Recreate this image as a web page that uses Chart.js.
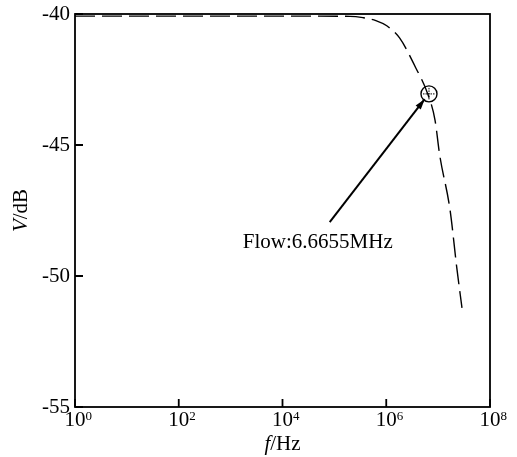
<!DOCTYPE html>
<html>
<head>
<meta charset="utf-8">
<script src="https://cdn.jsdelivr.net/npm/chart.js@4.4.0/dist/chart.umd.min.js"></script>
<style>
  html, body { margin: 0; padding: 0; background: #fff; }
  #wrap { width: 517px; height: 457px; position: relative; }
</style>
</head>
<body>
<div id="wrap"><canvas id="bodeChart"></canvas></div>
<script>
// frequency in Hz (read as log10 off the picture) and gain in dB
const freqExp = [0, 2, 4, 5.3, 5.55, 5.8, 6.01, 6.26, 6.57, 6.80, 6.94, 7.03, 7.23, 7.36, 7.46];
const gainDb = [-40.08, -40.08, -40.08, -40.09, -40.14, -40.25, -40.45, -40.92, -42.06, -43.05, -44.05, -45.38, -47.48, -49.69, -51.22];
const xTicks = [1, 1e2, 1e4, 1e6, 1e8];
const xTickExp = ["0", "2", "4", "6", "8"];
const yTicks = [-55, -50, -45, -40];
const flowFreq = 6.6655e6;
const flowGain = -43.05;
const noteText = "Flow:6.6655MHz";
const arrowFrom = [Math.pow(10, 4.91), -47.94];
const arrowTo = [Math.pow(10, 6.74), -43.25];
const notePos = [Math.pow(10, 4.68), -48.72];

const serif = "'Liberation Serif', 'Times New Roman', serif";
const fs = 21;

const frameAndNote = {
  id: "frameAndNote",
  afterDatasetsDraw(chart) {
    const { ctx, chartArea: a, scales } = chart;
    const xs = scales.x, ys = scales.y;
    ctx.save();
    ctx.strokeStyle = "#000";
    ctx.lineWidth = 1.8;
    ctx.strokeRect(a.left, a.top, a.right - a.left, a.bottom - a.top);
    // inward ticks
    ctx.beginPath();
    xTicks.forEach(v => {
      const px = xs.getPixelForValue(v);
      ctx.moveTo(px, a.bottom); ctx.lineTo(px, a.bottom - 8);
    });
    yTicks.forEach(v => {
      const py = ys.getPixelForValue(v);
      ctx.moveTo(a.left, py); ctx.lineTo(a.left + 8, py);
    });
    ctx.stroke();

    // x tick labels 10^n
    ctx.fillStyle = "#000";
    ctx.textBaseline = "top";
    xTicks.forEach((v, i) => {
      const px = xs.getPixelForValue(v);
      ctx.font = fs + "px " + serif;
      ctx.textAlign = "center";
      ctx.fillText("10", px, a.bottom + 3);
      const w = ctx.measureText("10").width;
      ctx.font = "13px " + serif;
      ctx.textAlign = "left";
      ctx.fillText(xTickExp[i], px + w / 2, a.bottom + 3);
    });

    // hatching inside the marker circle
    const cx = xs.getPixelForValue(flowFreq), cy = ys.getPixelForValue(flowGain);
    ctx.lineWidth = 1;
    ctx.setLineDash([1.5, 1]);
    ctx.beginPath();
    ctx.moveTo(cx - 6, cy); ctx.lineTo(cx + 6, cy);
    ctx.moveTo(cx, cy - 6); ctx.lineTo(cx, cy + 6);
    ctx.stroke();
    ctx.setLineDash([]);

    // arrow
    const x0 = xs.getPixelForValue(arrowFrom[0]), y0 = ys.getPixelForValue(arrowFrom[1]);
    const x1 = xs.getPixelForValue(arrowTo[0]), y1 = ys.getPixelForValue(arrowTo[1]);
    ctx.lineWidth = 2;
    ctx.beginPath();
    ctx.moveTo(x0, y0); ctx.lineTo(x1, y1);
    ctx.stroke();
    const ang = Math.atan2(y1 - y0, x1 - x0);
    ctx.beginPath();
    ctx.moveTo(x1, y1);
    ctx.lineTo(x1 - 11 * Math.cos(ang - 0.3), y1 - 11 * Math.sin(ang - 0.3));
    ctx.lineTo(x1 - 11 * Math.cos(ang + 0.3), y1 - 11 * Math.sin(ang + 0.3));
    ctx.closePath();
    ctx.fill();

    ctx.font = fs + "px " + serif;
    ctx.textAlign = "center";
    ctx.textBaseline = "middle";
    ctx.fillText(noteText, xs.getPixelForValue(notePos[0]), ys.getPixelForValue(notePos[1]));

    // axis titles with italic symbols
    ctx.textBaseline = "alphabetic";
    ctx.textAlign = "left";
    const midX = (a.left + a.right) / 2;
    ctx.font = "italic " + fs + "px " + serif;
    const fW = ctx.measureText("f").width;
    ctx.font = fs + "px " + serif;
    const hzW = ctx.measureText("/Hz").width;
    let sx = midX - (fW + hzW) / 2;
    ctx.font = "italic " + fs + "px " + serif;
    ctx.fillText("f", sx, 450);
    ctx.font = fs + "px " + serif;
    ctx.fillText("/Hz", sx + fW, 450);

    ctx.translate(27, (a.top + a.bottom) / 2);
    ctx.rotate(-Math.PI / 2);
    ctx.font = "italic " + fs + "px " + serif;
    const vW = ctx.measureText("V").width;
    ctx.font = fs + "px " + serif;
    const dbW = ctx.measureText("/dB").width;
    const vx = -(vW + dbW) / 2;
    ctx.font = "italic " + fs + "px " + serif;
    ctx.fillText("V", vx, 0);
    ctx.font = fs + "px " + serif;
    ctx.fillText("/dB", vx + vW, 0);
    ctx.restore();
  }
};

const ctx = document.getElementById("bodeChart").getContext("2d");
new Chart(ctx, {
  type: "scatter",
  data: {
    datasets: [
      {
        data: freqExp.map((e, i) => ({ x: Math.pow(10, e), y: gainDb[i] })),
        showLine: true,
        borderColor: "#000",
        borderWidth: 1.4,
        borderDash: [20, 7],
        pointRadius: 0,
        cubicInterpolationMode: "monotone",
        fill: false,
      },
      {
        data: [{ x: flowFreq, y: flowGain }],
        pointRadius: 8,
        pointBorderWidth: 1.4,
        pointBorderColor: "#000",
        pointBackgroundColor: "rgba(0,0,0,0)",
      },
    ],
  },
  options: {
    responsive: true,
    maintainAspectRatio: false,
    animation: false,
    layout: { padding: { top: 14, right: 27, left: 0, bottom: 0 } },
    plugins: { legend: { display: false }, tooltip: { enabled: false } },
    scales: {
      x: {
        type: "logarithmic",
        min: 1,
        max: 1e8,
        afterBuildTicks: (s) => { s.ticks = xTicks.map(v => ({ value: v })); },
        afterFit: (s) => { s.height = 50; },
        grid: { display: false, drawTicks: false },
        border: { display: false },
        ticks: { display: false },
      },
      y: {
        min: -55,
        max: -40,
        afterBuildTicks: (s) => { s.ticks = yTicks.map(v => ({ value: v })); },
        afterFit: (s) => { s.width = 75; s.paddingTop = 0; s.paddingBottom = 0; },
        grid: { display: false, drawTicks: false },
        border: { display: false },
        ticks: {
          padding: 5,
          color: "#000",
          font: { family: serif, size: fs },
        },
      },
    },
  },
  plugins: [frameAndNote],
});
</script>
</body>
</html>
